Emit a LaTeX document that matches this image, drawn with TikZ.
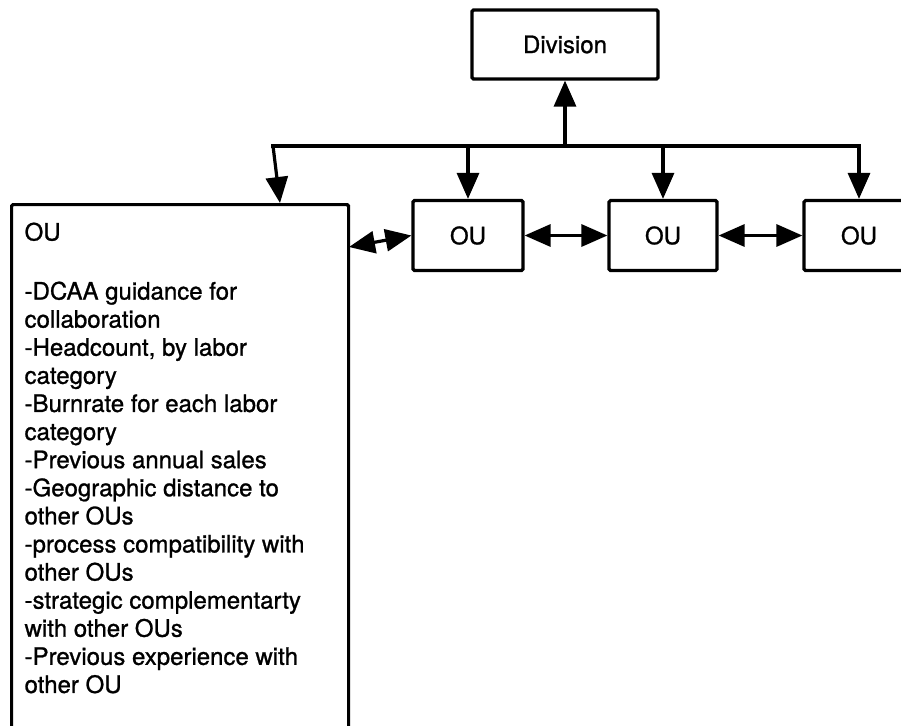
\documentclass[tikz,border=0pt]{standalone}
\usepackage{fontspec}
\setmainfont{TeX Gyre Heros}[FakeBold=1]
\usetikzlibrary{arrows.meta}
\begin{document}
\begin{tikzpicture}[x=1pt,y=-1pt,
  line width=3.2pt,
  box/.style={draw, rectangle, rounded corners=1.5pt, inner sep=0pt, fill=white,
    font=\fontsize{24}{28.1}\selectfont},
  arr/.style={-{Triangle[length=26pt,width=22pt]}},
  dbl/.style={{Triangle[length=26pt,width=22pt]}-{Triangle[length=26pt,width=22pt]}},
  infotext/.style={inner sep=0pt, align=left, anchor=north west,
    font=\fontsize{24}{28.1}\selectfont}]
  \useasboundingbox (0,0) rectangle (901,725);
  \clip (0,0) rectangle (901,725);
  \fill[white] (0,0) rectangle (901,725);

  % boxes
  \node[box, minimum width=186pt, minimum height=69pt] (div) at (565,44.5) {Division};
  \node[box, minimum width=337pt, minimum height=597pt, anchor=north west] (big) at (10,203) {};
  \node[infotext] (info) at (23,221) {OU\\[30.9pt]
    -DCAA guidance for\\
    collaboration\\
    -Headcount, by labor\\
    category\\
    -Burnrate for each labor\\
    category\\
    -Previous annual sales\\
    -Geographic distance to\\
    other OUs\\
    -process compatibility with\\
    other OUs\\
    -strategic complementarty\\
    with other OUs\\
    -Previous experience with\\
    other OU};
  \node[box, minimum width=110pt, minimum height=70pt] (ou1) at (468,235.5) {OU};
  \node[box, minimum width=108pt, minimum height=70pt] (ou2) at (663,235.5) {OU};
  \node[box, minimum width=110pt, minimum height=70pt] (ou3) at (859,235.5) {OU};

  % distribution bus below the division
  \coordinate (b0) at (273,146);
  \coordinate (bd) at (565,146);
  \coordinate (b1) at (468,146);
  \coordinate (b2) at (663,146);
  \coordinate (b3) at (859,146);
  \coordinate (bt) at (280,203);
  \coordinate (lk) at (349,247);
  \draw[line cap=rect] (b0) -- (b3);

  % connectors
  \draw[arr] (bd) -- (div.south);
  \draw[arr] (b0) -- (bt);
  \draw[arr] (b1) -- (ou1.north);
  \draw[arr] (b2) -- (ou2.north);
  \draw[arr] (b3) -- (ou3.north);
  \draw[dbl] (lk) -- (ou1.west);
  \draw[dbl] (ou1.east) -- (ou2.west);
  \draw[dbl] (ou2.east) -- (ou3.west);
\end{tikzpicture}
\end{document}
